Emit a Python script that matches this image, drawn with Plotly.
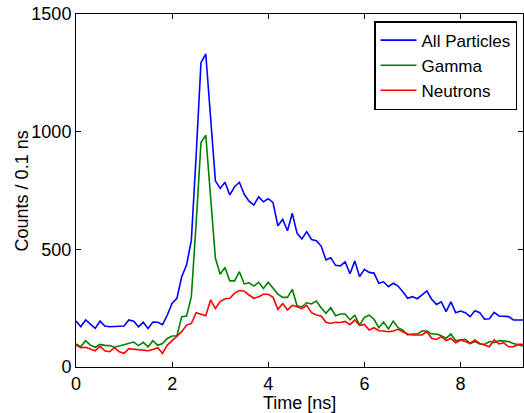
import plotly.graph_objects as go

time_ns = [round(0.1 * i, 1) for i in range(94)]

all_particles = [195, 171, 200, 183, 164, 195, 174, 171, 172, 174, 174, 200, 195, 171, 190, 164, 191, 190,
                 180, 221, 271, 292, 384, 433, 539, 900, 1293, 1330, 1050, 791, 759, 785, 731, 766, 785,
                 734, 705, 688, 723, 702, 715, 698,
                 600, 627, 579, 653, 568, 544, 575, 542, 537, 514, 455, 464, 432, 430, 447, 396, 450, 384,
                 415, 402, 399, 356, 362, 341, 356, 344, 320, 292, 299, 290, 306, 323, 288, 266, 277, 235,
                 277, 231, 238, 231, 214, 239, 231, 203, 205, 232, 217, 214, 214, 200, 200, 200]

gamma = [98, 86, 112, 93, 84, 96, 92, 91, 84, 89, 95, 100, 106, 91, 105, 86, 112, 92, 100, 121, 132, 133,
         214, 217, 299, 611, 954, 985, 724, 462, 394, 423, 366, 366, 405, 353, 358, 344, 360, 334, 360, 334,
         310, 296, 296, 330, 259, 256, 273, 268, 280, 252, 228, 252, 218, 225, 225, 200, 220, 178, 211, 220,
         203, 167, 191, 162, 195, 167, 157, 136, 140, 140, 153, 153, 140, 140, 133, 122, 140, 112, 115, 118,
         100, 108, 98, 96, 108, 103, 112, 110, 108, 100, 93, 89]

neutrons = [93, 82, 84, 78, 69, 89, 69, 65, 82, 65, 58, 78, 76, 72, 69, 69, 74, 82, 58, 93, 112, 132, 150,
            178, 185, 231, 225, 218, 285, 249, 278, 290, 292, 314, 325, 322, 306, 292, 299, 309, 309, 296,
            245, 270, 242, 262, 256, 248, 262, 231, 221, 217, 190, 185, 190, 189, 194, 180, 200, 177, 181,
            157, 167, 154, 153, 150, 153, 160, 150, 140, 136, 136, 136, 150, 122, 117, 129, 112, 122, 103,
            115, 108, 100, 115, 100, 93, 86, 115, 98, 103, 86, 86, 96, 96]

series_names = ["All Particles", "Gamma", "Neutrons"]
series_colors = ["#0000ff", "#008000", "#ff0000"]

x_ticks = [0, 2, 4, 6, 8]
y_ticks = [0, 500, 1000, 1500]
x_title = "Time [ns]"
y_title = "Counts / 0.1 ns"

FONT = "Liberation Sans, Arial, Helvetica, sans-serif"

fig = go.Figure()
for name, ys, col in zip(series_names, [all_particles, gamma, neutrons], series_colors):
    fig.add_trace(go.Scatter(x=time_ns, y=ys, mode="lines", name=name,
                             line=dict(color=col, width=1.6)))

axis_common = dict(showline=True, linecolor="black", linewidth=1, mirror="ticks",
                   ticks="inside", ticklen=5, tickcolor="black", showgrid=False, zeroline=False,
                   tickfont=dict(family=FONT, size=18, color="black"))

fig.update_layout(
    width=524, height=413,
    margin=dict(l=76, r=1, t=14, b=46),
    paper_bgcolor="white", plot_bgcolor="white",
    font=dict(family=FONT, color="black"),
    xaxis=dict(range=[0, 9.3], tickvals=x_ticks, **axis_common),
    yaxis=dict(range=[0, 1500], tickvals=y_ticks, **axis_common),
    legend=dict(x=0.9866, y=0.98, xanchor="right", yanchor="top",
                bgcolor="white", bordercolor="black", borderwidth=1.5,
                font=dict(family=FONT, size=17), tracegroupgap=0, itemwidth=36),
    showlegend=True,
)

fig.add_annotation(text=x_title, xref="paper", yref="paper", x=0.5, y=-0.101,
                   xanchor="center", yanchor="middle", showarrow=False,
                   font=dict(family=FONT, size=18, color="black"))
fig.add_annotation(text=y_title, xref="paper", yref="paper", x=-0.121, y=0.5,
                   xanchor="center", yanchor="middle", textangle=-90, showarrow=False,
                   font=dict(family=FONT, size=18, color="black"))

fig.write_html("out.html")
